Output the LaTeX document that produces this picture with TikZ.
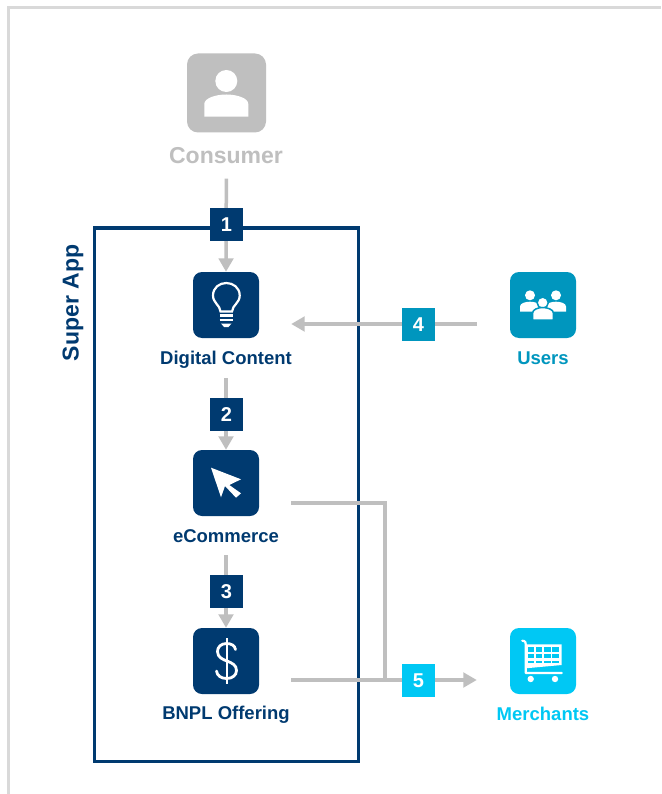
\documentclass[tikz,border=0pt]{standalone}
\usepackage{fontspec}
\setmainfont{Liberation Sans}
\usetikzlibrary{arrows.meta}
\definecolor{navy}{HTML}{003A70}
\definecolor{usersblue}{HTML}{0096BE}
\definecolor{merchblue}{HTML}{00C8F4}
\definecolor{flowgray}{HTML}{BFBFBF}
\definecolor{framegray}{HTML}{D9D9D9}
\tikzset{
  icon/.style={rounded corners=9pt,minimum width=66pt,minimum height=66pt,inner sep=0pt,fill=#1},
  lbl/.style={font=\fontsize{18.5}{20}\selectfont\bfseries,text=#1,inner sep=0pt},
  badge/.style={minimum width=33pt,minimum height=33pt,inner sep=0pt,fill=#1,text=white,font=\fontsize{20}{22}\selectfont\bfseries},
  flow/.style={draw=flowgray,line width=3.5pt},
  flowa/.style={flow,-{Triangle[width=14.5pt,length=13.5pt]}},
  glyph/.style={fill=white,draw=none},
  stroke/.style={draw=white,line width=#1,fill=none}
}
\begin{document}
\begin{tikzpicture}[x=1pt,y=-1pt]
\useasboundingbox (0,0) rectangle (661,794);
\fill[white] (0,0) rectangle (661,794);
\coordinate (frameb) at (8.5,794);
\coordinate (framec) at (8.5,7.5);
\coordinate (framer) at (661,7.5);
\draw[framegray,line width=3.4pt] (frameb) -- (framec) -- (framer);

% icon tiles
\node[icon=flowgray,minimum width=79pt,minimum height=79pt,rounded corners=11pt] (consumer) at (226.5,93) {};
\node[icon=navy] (digital) at (226,305) {};
\node[icon=navy] (ecom) at (226,483) {};
\node[icon=navy] (bnpl) at (226,661) {};
\node[icon=usersblue] (users) at (543,305) {};
\node[icon=merchblue] (merchants) at (543,661) {};

% labels
\node[lbl=flowgray,font=\fontsize{23}{25}\selectfont\bfseries] (consumerl) at (226,156) {Consumer};
\node[lbl=navy] (digitall) at (226,359.5) {Digital Content};
\node[lbl=navy] (ecoml) at (226,536.5) {eCommerce};
\node[lbl=navy] (bnpll) at (226,714.5) {BNPL Offering};
\node[lbl=usersblue] (usersl) at (543,358.5) {Users};
\node[lbl=merchblue] (merchantsl) at (543,714) {Merchants};

% container
\node[draw=navy,line width=3pt,minimum width=264pt,minimum height=533pt,inner sep=0pt] (app) at (226,494.5) {};
\node[rotate=90,text=navy,inner sep=0pt,font=\fontsize{23}{25}\selectfont\bfseries] (applabel) at (73,303) {Super App};

% connectors
\coordinate (elbow) at (385,503);
\coordinate (merge) at (385,680);
\draw[flowa,shorten <=46pt] (consumer.south) -- (digital.north);
\draw[flowa,shorten <=40pt] (digital.south) -- (ecom.north);
\draw[flowa,shorten <=39pt] (ecom.south) -- (bnpl.north);
\draw[flowa,shorten <=33pt,shorten >=32pt] ([yshift=-19pt]users.west) -- ([yshift=-19pt]digital.east);
\draw[flow,shorten <=32pt] ([yshift=-20pt]ecom.east) -- (elbow) -- (merge);
\draw[flowa,shorten <=32pt,shorten >=33pt] ([yshift=-19pt]bnpl.east) -- ([yshift=-19pt]merchants.west);

% badges
\node[badge=navy] (b1) at (226.5,224.5) {1};
\node[badge=navy] (b2) at (226.5,414.5) {2};
\node[badge=navy] (b3) at (226.5,591.5) {3};
\node[badge=usersblue] (b4) at (418.5,324.5) {4};
\node[badge=merchblue] (b5) at (418.5,680.5) {5};

% person glyph
\fill[glyph] (226.3,81) circle (11);
\fill[glyph] (204.3,116.7) -- (204.3,104) .. controls (204.3,98) and (216,94.5) .. (226.3,94.5) .. controls (236.6,94.5) and (248.3,98) .. (248.3,104) -- (248.3,116.7) -- cycle;

% bulb glyph
\draw[stroke=2.2pt] (220.5,311.5) .. controls (220,305) and (213,303) .. (213,295.5) .. controls (213,287.5) and (219.5,283) .. (226.3,283) .. controls (233,283) and (239.7,287.5) .. (239.7,295.5) .. controls (239.7,303) and (232.5,305) .. (232,311.5) -- cycle;
\draw[stroke=2.2pt] (219.5,315.5) -- (233,315.5);
\draw[stroke=2.2pt] (219.5,320) -- (233,320);
\fill[glyph] (221,323.5) -- (231.5,323.5) -- (228.5,327) -- (224,327) -- cycle;

% cursor glyph
\fill[glyph] (211,467.7) -- (241,479.3) -- (229.3,485) -- (241,493.3) -- (236,497.7) -- (225,486) -- (221,497.3) -- cycle;

% dollar glyph
\draw[stroke=2.4pt] (226.7,638) -- (226.7,684);
\draw[stroke=2.8pt,line cap=round] (235.5,649.5) .. controls (235,645.5) and (231,643.5) .. (226.7,643.5) .. controls (221,643.5) and (217.5,647) .. (217.5,651.5) .. controls (217.5,657.5) and (223,659.5) .. (227,661) .. controls (232,663) and (236.5,665) .. (236.5,670.5) .. controls (236.5,675.5) and (232,678.5) .. (226.7,678.5) .. controls (221,678.5) and (217,675.5) .. (216.5,671);

% users glyph
\fill[glyph] (530,295.3) circle (5);
\fill[glyph] (556,295.3) circle (5);
\fill[glyph] (520,311.7) -- (520,306.5) .. controls (520,303.5) and (525,301.7) .. (530,301.7) .. controls (535,301.7) and (540,303.5) .. (540,306.5) -- (540,311.7) -- cycle;
\fill[glyph] (546,311.7) -- (546,306.5) .. controls (546,303.5) and (551,301.7) .. (556,301.7) .. controls (561,301.7) and (566,303.5) .. (566,306.5) -- (566,311.7) -- cycle;
\draw[usersblue,line width=1.5pt,fill=white] (542.7,302.7) circle (5.6);
\draw[usersblue,line width=1.5pt,fill=white] (532.6,320) -- (532.6,313) .. controls (532.6,309.5) and (538,307.5) .. (542.7,307.5) .. controls (547.5,307.5) and (553.4,309.5) .. (553.4,313) -- (553.4,320) -- cycle;

% cart glyph
\draw[stroke=2.2pt,line cap=round,line join=round] (522.3,640.7) -- (524,641) .. controls (525.3,641.5) and (525.7,642.5) .. (525.7,644) -- (525.7,673) -- (561.7,673);
\fill[glyph] (525.7,644.3) -- (561.7,644.3) -- (561.7,665) -- (525.7,668.3) -- cycle;
\foreach \xa/\xb in {527.7/534,535.7/542.3,544/550.7,552.3/559}{
  \fill[merchblue] (\xa,647.3) rectangle (\xb,651.7);
  \fill[merchblue] (\xa,654) rectangle (\xb,658.3);
  \fill[merchblue] (\xa,660.5) rectangle (\xb,663.2);
}
\fill[glyph] (530.7,679) circle (3.2);
\fill[glyph] (555,679) circle (3.2);
\end{tikzpicture}
\end{document}
